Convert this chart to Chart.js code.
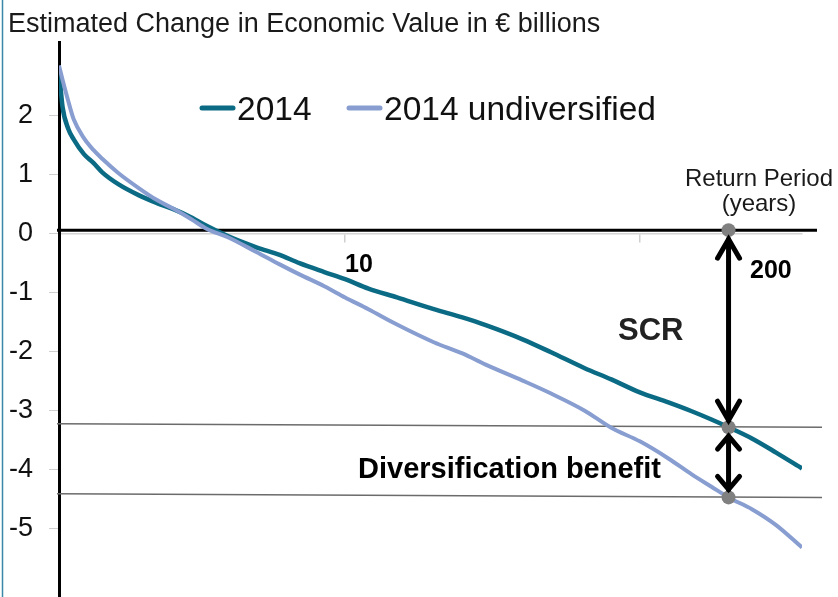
<!DOCTYPE html>
<html lang="en">
<head>
<meta charset="UTF-8" />
<title>Estimated Change in Economic Value</title>
<script src="https://cdn.jsdelivr.net/npm/chart.js"></script>
<style>
  body { margin: 0; background: #fff; }
  #wrap { width: 838px; height: 597px; }
</style>
</head>
<body>
<div id="wrap"><canvas id="evChart" width="838" height="597"></canvas></div>
<script>
  // return period in years (x) and change in economic value in € billions (y)
  const returnPeriods = [1.07, 1.1, 1.15, 1.2, 1.3, 1.4, 1.5, 1.7, 2, 2.3, 2.6, 3, 3.4, 4, 5, 6, 7, 8.5,
    10, 12, 15, 20, 25, 30, 40, 50, 65, 80, 100, 125, 150, 175, 200, 240, 290, 355];
  const value2014 = [2.78, 2.15, 1.78, 1.60, 1.35, 1.20, 1.04, 0.84, 0.65, 0.52, 0.42, 0.28, 0.13, -0.04,
    -0.23, -0.36, -0.50, -0.65, -0.77, -0.93, -1.08, -1.28, -1.42, -1.55, -1.79, -2.01, -2.28, -2.47,
    -2.69, -2.86, -3.01, -3.15, -3.28, -3.47, -3.71, -3.98];
  const valueUndiversified = [2.85, 2.61, 2.25, 1.94, 1.62, 1.42, 1.27, 1.03, 0.77, 0.57, 0.43, 0.25, 0.08,
    -0.06, -0.31, -0.52, -0.69, -0.89, -1.08, -1.28, -1.54, -1.84, -2.03, -2.22, -2.49, -2.71, -3.00,
    -3.29, -3.52, -3.81, -4.08, -4.29, -4.47, -4.67, -4.94, -5.32];

  // 1 in 200 year point: zero line, SCR, undiversified SCR
  const markerPeriod = 200;
  const markerValues = [0.06, -3.28, -4.47];
  const zeroLine = 0.06;
  const scrLine = [-3.22, -3.28];
  const divLine = [-4.41, -4.47];

  const yTicks = [-5, -4, -3, -2, -1, 0, 1, 2];
  const xTicks = [10, 100];

  const FONT = '"Liberation Sans", Arial, sans-serif';

  function arrow(ctx, x, y1, y2, head, hw) {
    ctx.beginPath();
    ctx.moveTo(x, y1);
    ctx.lineTo(x, y2);
    ctx.stroke();
    ctx.beginPath();
    ctx.moveTo(x - hw, y1 + head);
    ctx.lineTo(x, y1);
    ctx.lineTo(x + hw, y1 + head);
    ctx.stroke();
    ctx.beginPath();
    ctx.moveTo(x - hw, y2 - head);
    ctx.lineTo(x, y2);
    ctx.lineTo(x + hw, y2 - head);
    ctx.stroke();
  }

  const overlay = {
    id: 'overlay',
    beforeDatasetsDraw(chart) {
      const { ctx, chartArea: a, scales: { y } } = chart;
      ctx.save();
      // frame edge on the left
      ctx.strokeStyle = '#3a87a8';
      ctx.lineWidth = 1.5;
      ctx.beginPath();
      ctx.moveTo(2.5, 0);
      ctx.lineTo(2.5, chart.height);
      ctx.stroke();

      // y axis runs on to the bottom edge
      ctx.strokeStyle = '#000';
      ctx.lineWidth = 3;
      ctx.beginPath();
      ctx.moveTo(a.left + 0.5, a.bottom - 2);
      ctx.lineTo(a.left + 0.5, chart.height);
      ctx.stroke();

      // SCR levels
      ctx.strokeStyle = '#6b6b6b';
      ctx.lineWidth = 1.5;
      [scrLine, divLine].forEach(l => {
        ctx.beginPath();
        ctx.moveTo(a.left - 2, y.getPixelForValue(l[0]));
        ctx.lineTo(a.right + 20, y.getPixelForValue(l[1]));
        ctx.stroke();
      });

      // thick zero line
      const zy = y.getPixelForValue(zeroLine);
      ctx.strokeStyle = '#000';
      ctx.lineWidth = 3;
      ctx.beginPath();
      ctx.moveTo(a.left - 2, zy);
      ctx.lineTo(a.right + 15, zy);
      ctx.stroke();
      ctx.restore();
    },
    afterDatasetsDraw(chart) {
      const { ctx, scales: { x, y } } = chart;
      ctx.save();

      // arrows
      const ax = x.getPixelForValue(markerPeriod);
      const p = markerValues.map(v => y.getPixelForValue(v));
      ctx.strokeStyle = '#000';
      ctx.lineWidth = 5;
      ctx.lineCap = 'round';
      ctx.lineJoin = 'miter';
      arrow(ctx, ax, p[0] + 9, p[1] - 7, 19, 11);
      arrow(ctx, ax, p[1] + 9, p[2] - 8, 13, 11);

      // title
      ctx.fillStyle = '#1a1a1a';
      ctx.textBaseline = 'alphabetic';
      ctx.textAlign = 'left';
      ctx.font = '27px ' + FONT;
      ctx.fillText('Estimated Change in Economic Value in € billions', 8, 32);

      // legend
      const items = chart.data.datasets.filter(d => d.inLegend);
      const lx = [200, 347];
      ctx.font = '33.5px ' + FONT;
      items.forEach((d, i) => {
        ctx.strokeStyle = d.borderColor;
        ctx.lineWidth = 5;
        ctx.lineCap = 'round';
        ctx.beginPath();
        ctx.moveTo(lx[i] + 2, 108);
        ctx.lineTo(lx[i] + 33, 108);
        ctx.stroke();
        ctx.fillStyle = '#111';
        ctx.fillText(d.label, lx[i] + 37, 120);
      });

      // annotations
      ctx.fillStyle = '#1a1a1a';
      ctx.font = '24px ' + FONT;
      ctx.textAlign = 'center';
      ctx.fillText('Return Period', 759, 186);
      ctx.fillText('(years)', 759, 211);

      ctx.fillStyle = '#000';
      ctx.textAlign = 'left';
      ctx.font = 'bold 25px ' + FONT;
      ctx.fillText('10', 345, 272);
      ctx.fillText('200', 750, 278);
      ctx.font = 'bold 31px ' + FONT;
      ctx.fillStyle = '#222';
      ctx.fillText('SCR', 618, 340);
      ctx.fillStyle = '#000';
      ctx.font = 'bold 29px ' + FONT;
      ctx.fillText('Diversification benefit', 358, 478);
      ctx.restore();
    }
  };

  new Chart(document.getElementById('evChart'), {
    type: 'line',
    data: {
      datasets: [
        {
          label: 'markers',
          data: markerValues.map(v => ({ x: markerPeriod, y: v })),
          showLine: false,
          pointRadius: 7,
          pointHoverRadius: 7,
          pointBackgroundColor: '#808080',
          pointBorderWidth: 0,
          order: 0
        },
        {
          label: '2014',
          inLegend: true,
          data: returnPeriods.map((t, i) => ({ x: t, y: value2014[i] })),
          borderColor: '#0b6a84',
          borderWidth: 4.5,
          pointRadius: 0,
          cubicInterpolationMode: 'monotone',
          order: 2
        },
        {
          label: '2014 undiversified',
          inLegend: true,
          data: returnPeriods.map((t, i) => ({ x: t, y: valueUndiversified[i] })),
          borderColor: '#889dd0',
          borderWidth: 4,
          pointRadius: 0,
          cubicInterpolationMode: 'monotone',
          order: 1
        }
      ]
    },
    options: {
      responsive: false,
      animation: false,
      layout: { padding: { top: 42, right: 36, bottom: 0, left: 0 } },
      plugins: {
        legend: { display: false },
        tooltip: { enabled: false },
        title: { display: false }
      },
      scales: {
        x: {
          type: 'logarithmic',
          min: 1.07,
          max: 355,
          position: { y: 0 },
          ticks: { display: false },
          grid: { drawOnChartArea: false, drawTicks: true, tickLength: 8, color: '#cfcfcf', lineWidth: 1.5 },
          border: { color: '#d4d4d4', width: 1.5 },
          afterBuildTicks: s => { s.ticks = xTicks.map(v => ({ value: v })); }
        },
        y: {
          min: -6.04,
          max: 3.25,
          ticks: { font: { size: 27, family: FONT }, color: '#111', padding: 16 },
          grid: { drawOnChartArea: false, drawTicks: true, tickLength: 10, color: '#cfcfcf' },
          border: { color: '#000', width: 3 },
          afterBuildTicks: s => { s.ticks = yTicks.map(v => ({ value: v })); },
          afterFit: s => { s.width = 59; s.paddingTop = 0; s.paddingBottom = 0; }
        }
      }
    },
    plugins: [overlay]
  });
</script>
</body>
</html>
